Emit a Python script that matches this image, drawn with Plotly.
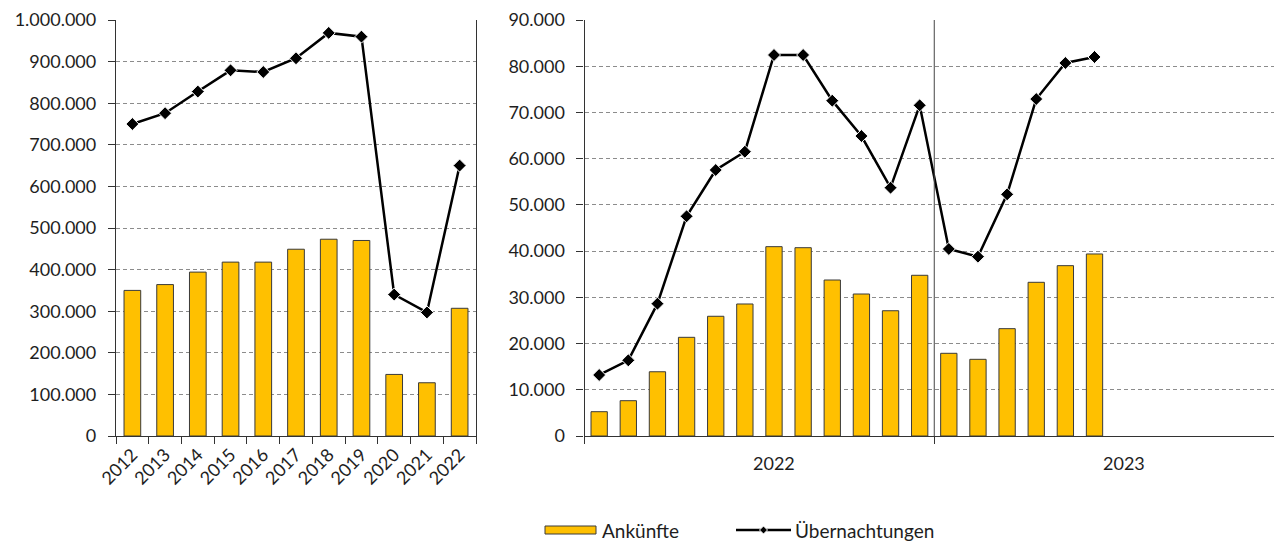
import plotly.graph_objects as go

# ---- data: annual (left) ----
years = ["2012", "2013", "2014", "2015", "2016", "2017", "2018", "2019", "2020", "2021", "2022"]
arrivals_year = [350000, 364000, 394000, 418000, 418000, 449000, 473000, 470000, 148000, 128000, 307000]
nights_year = [750000, 776000, 828000, 879000, 875000, 908000, 969000, 960000, 340000, 297000, 650000]

# ---- data: monthly (right) ----
months = ["Jan", "Feb", "Mär", "Apr", "Mai", "Jun", "Jul", "Aug", "Sep", "Okt", "Nov", "Dez",
          "Jan", "Feb", "Mär", "Apr", "Mai", "Jun"]
arrivals_month = [5260, 7640, 13900, 21350, 25900, 28560, 40960, 40740, 33750, 30720, 27100, 34770,
                  17890, 16590, 23220, 33250, 36850, 39380]
nights_month = [13200, 16370, 28630, 47530, 57550, 61500, 82430, 82430, 72550, 64900, 53720, 71540,
                40460, 38800, 52290, 72900, 80700, 82000]
year_groups = ["2022", "2023"]
series_names = ["Ankünfte", "Übernachtungen"]

BAR = "#FFC000"
BAR_LINE = "#3a3a3a"
GRID = "#8c8c8c"
TXT = "#1e1e1e"
FONT = "Lato"
W, H = 1274, 541

midx = list(range(len(months)))

fig = go.Figure()

fig.add_trace(go.Bar(x=years, y=arrivals_year, name=series_names[0], width=0.51,
                     marker=dict(color=BAR, line=dict(color=BAR_LINE, width=1)),
                     xaxis="x", yaxis="y"))
fig.add_trace(go.Scatter(x=years, y=nights_year, name=series_names[1], mode="lines+markers",
                         line=dict(color="black", width=2.5),
                         marker=dict(symbol="diamond", size=10, color="black",
                                     line=dict(color="white", width=1)),
                         xaxis="x", yaxis="y"))
fig.add_trace(go.Bar(x=midx, y=arrivals_month, name=series_names[0], width=0.56,
                     marker=dict(color=BAR, line=dict(color=BAR_LINE, width=1)),
                     xaxis="x2", yaxis="y2"))
fig.add_trace(go.Scatter(x=midx, y=nights_month, name=series_names[1], mode="lines+markers",
                         line=dict(color="black", width=2.5),
                         marker=dict(symbol="diamond", size=10, color="black",
                                     line=dict(color="white", width=1)),
                         xaxis="x2", yaxis="y2"))

common_y = dict(showgrid=True, gridcolor=GRID, griddash="4px,3px", gridwidth=1,
                showline=True, linecolor="#333", linewidth=1.3,
                ticks="outside", ticklen=7, tickcolor="#333", ticklabelstandoff=8,
                tickformat=",.0f", tickfont=dict(size=18, color=TXT, family=FONT),
                zeroline=False, fixedrange=True, automargin=False)

fig.update_layout(
    width=W, height=H,
    margin=dict(l=0, r=0, t=20, b=105),
    paper_bgcolor="white", plot_bgcolor="white",
    separators=",.",
    font=dict(family=FONT, size=18, color=TXT),
    showlegend=False,
    xaxis=dict(domain=[116 / W, 476 / W], type="category",
               showline=True, linecolor="#333", linewidth=1.3,
               ticks="outside", ticklen=7, tickcolor="#333", tickson="boundaries",
               tickangle=-45, tickfont=dict(size=18, color=TXT, family=FONT),
               showgrid=False, range=[-0.5, 10.5], automargin=False),
    yaxis=dict(range=[0, 1000000], dtick=100000, anchor="x", mirror=True, **common_y),
    xaxis2=dict(domain=[584.6 / W, 1.0], range=[-0.5, 23.16],
                showline=True, linecolor="#333", linewidth=1.3,
                tickvals=[-0.5, 11.5], ticks="outside", ticklen=7, tickcolor="#333",
                showticklabels=False, showgrid=False, zeroline=False, anchor="y2",
                automargin=False),
    yaxis2=dict(range=[0, 90000], dtick=10000, anchor="x2", **common_y),
)

# separator between year groups
fig.add_shape(type="line", xref="x2", yref="y2 domain", x0=11.5, x1=11.5, y0=0, y1=1,
              line=dict(color="#444", width=1))

# year group labels
for gx, lab in zip([6, 18], year_groups):
    fig.add_annotation(x=gx, xref="x2", y=-0.065, yref="paper", text=lab, showarrow=False,
                       font=dict(size=18, color=TXT, family=FONT), yanchor="middle")

# manual legend (paper coordinates; plot area spans y 20..436 px)
def py(px):
    return (436 - px) / 416

def pxx(px):
    return px / W

fig.add_shape(type="rect", xref="paper", yref="paper",
              x0=pxx(545), x1=pxx(596), y0=py(534), y1=py(526),
              fillcolor=BAR, line=dict(color=BAR_LINE, width=1))
fig.add_annotation(x=pxx(600), y=py(530), xref="paper", yref="paper", text=series_names[0],
                   showarrow=False, xanchor="left", yanchor="middle",
                   font=dict(size=19, color=TXT, family=FONT))
fig.add_shape(type="line", xref="paper", yref="paper",
              x0=pxx(736), x1=pxx(791), y0=py(530), y1=py(530),
              line=dict(color="black", width=2.5))
fig.add_shape(type="path", xref="paper", yref="paper",
              path=f"M {pxx(763.5-4)},{py(530)} L {pxx(763.5)},{py(526)} L {pxx(763.5+4)},{py(530)} L {pxx(763.5)},{py(534)} Z",
              fillcolor="black", line=dict(color="white", width=1))
fig.add_annotation(x=pxx(793), y=py(530), xref="paper", yref="paper", text=series_names[1],
                   showarrow=False, xanchor="left", yanchor="middle",
                   font=dict(size=19, color=TXT, family=FONT))

fig.write_html("out.html", config={"displayModeBar": False},
               post_script="document.body.style.margin='0';")
